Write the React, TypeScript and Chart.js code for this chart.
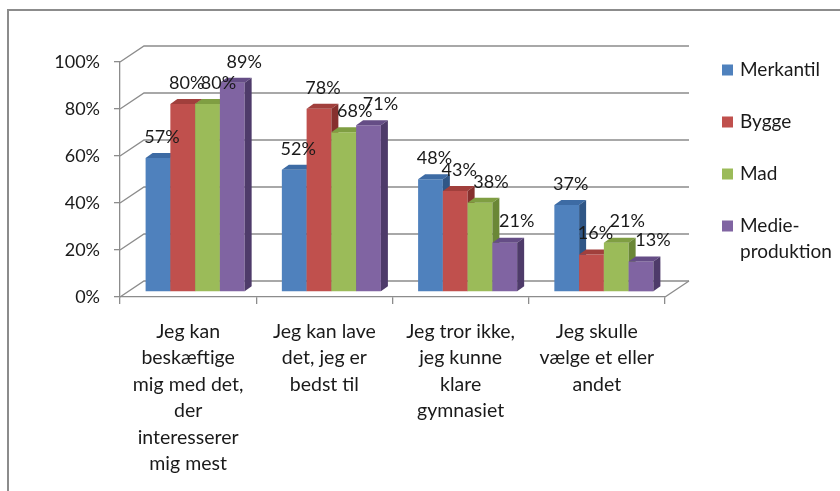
import React, { useEffect, useRef } from "react";
import { Chart, registerables } from "chart.js";

Chart.register(...registerables);

const categories: string[][] = [
  ["Jeg kan", "beskæftige", "mig med det,", "der", "interesserer", "mig mest"],
  ["Jeg kan lave", "det, jeg er", "bedst til"],
  ["Jeg tror ikke,", "jeg kunne", "klare", "gymnasiet"],
  ["Jeg skulle", "vælge et eller", "andet"],
];
const seriesNames = ["Merkantil", "Bygge", "Mad", "Medie-produktion"];
const legendLines: string[][] = [["Merkantil"], ["Bygge"], ["Mad"], ["Medie-", "produktion"]];
const merkantil = [57, 52, 48, 37];
const bygge = [80, 78, 43, 16];
const mad = [80, 68, 38, 21];
const medieproduktion = [89, 71, 21, 13];
const yTicks = [0, 20, 40, 60, 80, 100];

const frontColors = ["#4F81BD", "#C0504D", "#9BBB59", "#8064A2"];
const topColors = ["#3D6BA4", "#A13F3C", "#7F9E42", "#654D86"];
const sideColors = ["#2F5686", "#86302E", "#6A8736", "#4E3B6A"];
const labelShift = [4, 4, 11, 12];

const FONT = "Lato, 'Open Sans', sans-serif";
const TEXT = "#1a1a1a";
const GRID = "#8c8c8c";

const WALL_DX = 24;
const WALL_DY = 16;
const BAR_SHIFT_X = 7;
const BAR_SHIFT_Y = -5;
const BAR_DX = 7;
const BAR_DY = 5;
const LABEL_DY = -21;

const threeDPlugin = {
  id: "threeD",
  beforeDatasetsDraw(chart: any) {
    const { ctx, chartArea: a, scales } = chart;
    const y = scales.y;
    ctx.save();
    ctx.strokeStyle = GRID;
    ctx.lineWidth = 1.3;
    for (const t of yTicks) {
      const py = y.getPixelForValue(t);
      ctx.beginPath();
      ctx.moveTo(a.left, py);
      ctx.lineTo(a.left + WALL_DX, py - WALL_DY);
      ctx.lineTo(a.right + WALL_DX, py - WALL_DY);
      ctx.stroke();
    }
    const p0 = y.getPixelForValue(0);
    ctx.beginPath();
    ctx.moveTo(a.right, p0);
    ctx.lineTo(a.right + WALL_DX, p0 - WALL_DY);
    ctx.stroke();
    ctx.restore();

    ctx.save();
    ctx.translate(BAR_SHIFT_X, BAR_SHIFT_Y);
    const n = chart.data.datasets.length;
    for (let d = 0; d < n; d++) {
      const meta = chart.getDatasetMeta(d);
      meta.data.forEach((el: any) => {
        const { x, y: top, base, width } = el.getProps(["x", "y", "base", "width"], true);
        el.draw(ctx);
        const l = x - width / 2;
        const r = x + width / 2;
        ctx.fillStyle = topColors[d];
        ctx.beginPath();
        ctx.moveTo(l, top);
        ctx.lineTo(r, top);
        ctx.lineTo(r + BAR_DX, top - BAR_DY);
        ctx.lineTo(l + BAR_DX, top - BAR_DY);
        ctx.closePath();
        ctx.fill();
        ctx.fillStyle = sideColors[d];
        ctx.beginPath();
        ctx.moveTo(r, top);
        ctx.lineTo(r + BAR_DX, top - BAR_DY);
        ctx.lineTo(r + BAR_DX, base - BAR_DY);
        ctx.lineTo(r, base);
        ctx.closePath();
        ctx.fill();
      });
    }
    ctx.restore();

    ctx.save();
    ctx.font = `18px ${FONT}`;
    ctx.fillStyle = TEXT;
    ctx.textAlign = "center";
    ctx.textBaseline = "middle";
    for (let d = 0; d < n; d++) {
      const meta = chart.getDatasetMeta(d);
      const vals = chart.data.datasets[d].data as number[];
      meta.data.forEach((el: any, i: number) => {
        const { x, y: top } = el.getProps(["x", "y"], true);
        ctx.fillText(
          `${vals[i]}%`,
          x + BAR_SHIFT_X + labelShift[d],
          top + BAR_SHIFT_Y + LABEL_DY
        );
      });
    }
    ctx.restore();
    return false;
  },
  afterDraw(chart: any) {
    const { ctx } = chart;
    ctx.save();
    ctx.font = `19px ${FONT}`;
    ctx.textBaseline = "middle";
    ctx.textAlign = "left";
    chart.data.datasets.forEach((ds: any, i: number) => {
      const cy = 70 + i * 52;
      ctx.fillStyle = frontColors[i];
      ctx.fillRect(722, cy - 5.5, 11, 11);
      ctx.fillStyle = TEXT;
      legendLines[i].forEach((line, k) => {
        ctx.fillText(line, 740, cy + k * 26);
      });
    });
    ctx.restore();
  },
};

export default function App() {
  const ref = useRef<HTMLCanvasElement | null>(null);
  useEffect(() => {
    if (!ref.current) return;
    const series = [merkantil, bygge, mad, medieproduktion];
    const chart = new Chart(ref.current, {
      type: "bar",
      data: {
        labels: categories,
        datasets: series.map((s, i) => ({
          label: seriesNames[i],
          data: s,
          backgroundColor: frontColors[i],
          borderWidth: 0,
          categoryPercentage: 0.727,
          barPercentage: 1,
        })),
      },
      options: {
        responsive: false,
        animation: false,
        events: [],
        layout: { padding: { left: 0, right: 175, top: 62, bottom: 0 } },
        plugins: {
          legend: { display: false },
          tooltip: { enabled: false },
        },
        scales: {
          x: {
            grid: {
              drawOnChartArea: false,
              drawTicks: true,
              tickLength: 7,
              color: GRID,
              lineWidth: 1.3,
              offset: true,
            },
            border: { display: true, color: GRID, width: 1.3 },
            ticks: {
              color: TEXT,
              font: { family: FONT, size: 19.5, lineHeight: 1.36 },
              maxRotation: 0,
              minRotation: 0,
              autoSkip: false,
              padding: 14,
            },
            afterFit: (s: any) => {
              s.height = 194;
            },
          },
          y: {
            min: 0,
            max: 100,
            ticks: {
              stepSize: 20,
              color: TEXT,
              font: { family: FONT, size: 18 },
              padding: 14,
              callback: (v: any) => `${v}%`,
            },
            grid: {
              drawOnChartArea: false,
              drawTicks: true,
              tickLength: 6,
              color: GRID,
              lineWidth: 1.3,
            },
            border: { display: true, color: GRID, width: 1.3 },
            afterFit: (s: any) => {
              s.width = 120;
            },
          },
        },
      },
      plugins: [threeDPlugin],
    });
    return () => chart.destroy();
  }, []);

  return (
    <div
      style={{
        position: "fixed",
        left: 0,
        top: 0,
        width: 840,
        height: 491,
        overflow: "hidden",
        background: "#ffffff",
      }}
    >
      <div
        style={{
          position: "absolute",
          left: 7,
          top: 9,
          width: 900,
          height: 600,
          borderLeft: "2px solid #8c8c8c",
          borderTop: "2px solid #8c8c8c",
        }}
      />
      <canvas
        ref={ref}
        width={840}
        height={491}
        style={{ position: "absolute", left: 0, top: 0, width: 840, height: 491 }}
      />
    </div>
  );
}
